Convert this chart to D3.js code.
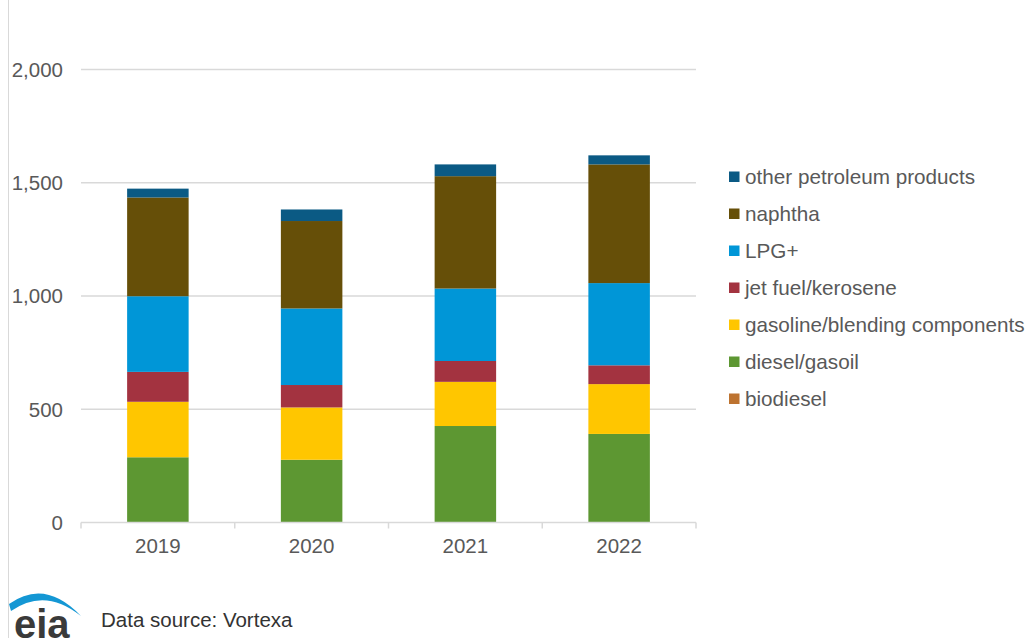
<!DOCTYPE html>
<html lang="en">
<head>
  <meta charset="UTF-8">
  <title>Petroleum products by year</title>
  <script src="https://cdn.jsdelivr.net/npm/d3@7"></script>
  <style>
    body { margin: 0; background: #fff; }
    text { font-family: "Liberation Sans", Arial, sans-serif; }
  </style>
</head>
<body>
<div id="chart"></div>
<script>
  // data
  const years = ['2019', '2020', '2021', '2022']
  const biodiesel = [1, 1, 1, 1]
  const diesel = [287, 276, 425, 390]
  const gasoline = [245, 231, 195, 220]
  const jetFuel = [132, 99, 92, 83]
  const lpg = [334, 338, 320, 363]
  const naphtha = [436, 386, 496, 524]
  const other = [39, 51, 52, 40]
  const yTicks = [0, 500, 1000, 1500, 2000]

  // bottom to top
  const seriesNames = ['biodiesel', 'diesel/gasoil', 'gasoline/blending components',
    'jet fuel/kerosene', 'LPG+', 'naphtha', 'other petroleum products']
  const seriesValues = [biodiesel, diesel, gasoline, jetFuel, lpg, naphtha, other]
  const colors = ['#bd7330', '#5d9732', '#ffc600', '#a33340', '#0096d7', '#664f08', '#0b5a84']

  const rows = years.map((y, i) => {
    const r = {year: y}
    seriesNames.forEach((s, j) => r[s] = seriesValues[j][i])
    return r
  })

  const width = 1029
  const height = 638
  const marginLeft = 81
  const plotRight = 696
  const y0 = 522.5
  const yTop = 69.5

  const svg = d3.select('#chart')
    .append('svg')
    .attr('width', width)
    .attr('height', height)

  // chart area border on the left
  svg.append('line')
    .attr('x1', 8.5).attr('x2', 8.5)
    .attr('y1', 0).attr('y2', height)
    .attr('stroke', '#d9d9d9')
    .attr('stroke-width', 1)

  const x = d3.scaleBand()
    .domain(years)
    .range([marginLeft, plotRight])
    .padding(0)

  const y = d3.scaleLinear()
    .domain([0, 2000])
    .range([y0, yTop])

  // gridlines + y labels
  svg.append('g')
    .selectAll('line')
    .data(yTicks.filter(d => d > 0))
    .join('line')
    .attr('x1', marginLeft)
    .attr('x2', plotRight)
    .attr('y1', d => y(d))
    .attr('y2', d => y(d))
    .attr('stroke', '#d9d9d9')
    .attr('stroke-width', 1.5)

  svg.append('g')
    .selectAll('text')
    .data(yTicks)
    .join('text')
    .attr('x', 63)
    .attr('y', d => y(d))
    .attr('dy', '0.36em')
    .attr('text-anchor', 'end')
    .attr('font-size', 20.5)
    .attr('fill', '#595959')
    .text(d => d3.format(',')(d))

  // stacked bars
  const stack = d3.stack().keys(seriesNames)
  const layers = stack(rows)
  const barW = x.bandwidth() * 0.4

  svg.append('g')
    .selectAll('g')
    .data(layers)
    .join('g')
    .attr('fill', (d, i) => colors[i])
    .selectAll('rect')
    .data(d => d)
    .join('rect')
    .attr('x', d => x(d.data.year) + (x.bandwidth() - barW) / 2)
    .attr('width', barW)
    .attr('y', d => y(d[1]))
    .attr('height', d => y(d[0]) - y(d[1]))

  // x axis
  const xAxis = svg.append('g')
  xAxis.append('line')
    .attr('x1', marginLeft).attr('x2', plotRight)
    .attr('y1', y0).attr('y2', y0)
    .attr('stroke', '#d9d9d9')
    .attr('stroke-width', 1.5)
  xAxis.selectAll('line.tick')
    .data(years.map(d => x(d)).concat([plotRight]))
    .join('line')
    .attr('class', 'tick')
    .attr('x1', d => d).attr('x2', d => d)
    .attr('y1', y0).attr('y2', y0 + 6)
    .attr('stroke', '#d9d9d9')
    .attr('stroke-width', 1.5)
  xAxis.selectAll('text')
    .data(years)
    .join('text')
    .attr('x', d => x(d) + x.bandwidth() / 2)
    .attr('y', 553)
    .attr('text-anchor', 'middle')
    .attr('font-size', 20.5)
    .attr('fill', '#595959')
    .text(d => d)

  // legend, top item = top of stack
  const legendOrder = seriesNames.map((s, i) => ({name: s, color: colors[i]})).reverse()
  const legend = svg.append('g')
    .selectAll('g')
    .data(legendOrder)
    .join('g')
    .attr('transform', (d, i) => `translate(729, ${177 + i * 37})`)
  legend.append('rect')
    .attr('x', 0).attr('y', -5.5)
    .attr('width', 10.5).attr('height', 10.5)
    .attr('fill', d => d.color)
  legend.append('text')
    .attr('x', 16)
    .attr('y', 7)
    .attr('font-size', 20.7)
    .attr('fill', '#595959')
    .text(d => d.name)

  // eia logo + source
  svg.append('path')
    .attr('d', 'M9,604 Q45,578 81,616 Q45,587 11,611 Z')
    .attr('fill', '#1497d4')
  svg.append('text')
    .attr('x', 14)
    .attr('y', 638)
    .attr('font-size', 40)
    .attr('font-weight', 'bold')
    .attr('fill', '#3a3a3a')
    .text('eia')
  svg.append('text')
    .attr('x', 101)
    .attr('y', 627)
    .attr('font-size', 20.5)
    .attr('fill', '#333')
    .text('Data source: Vortexa')
</script>
</body>
</html>
